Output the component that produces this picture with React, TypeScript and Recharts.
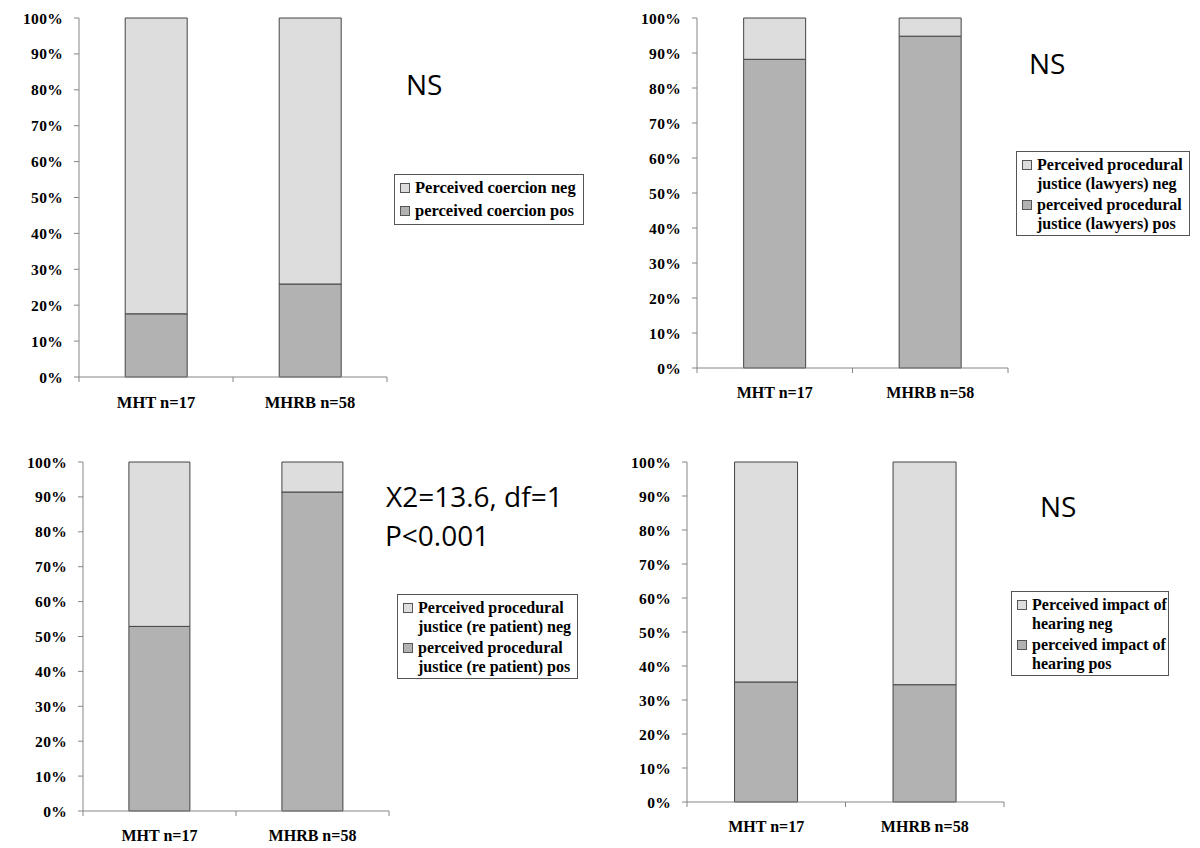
import React from 'react';
import { BarChart, Bar, XAxis, YAxis, Legend } from 'recharts';

// ---- data ----
const categories = ['MHT n=17', 'MHRB n=58'];

const coercionPos = [17.6, 25.9];
const coercionNeg = [82.4, 74.1];

const lawyersPos = [88.2, 94.8];
const lawyersNeg = [11.8, 5.2];

const patientPos = [52.9, 91.4];
const patientNeg = [47.1, 8.6];

const hearingPos = [35.3, 34.5];
const hearingNeg = [64.7, 65.5];

const yTicks = [0, 10, 20, 30, 40, 50, 60, 70, 80, 90, 100];
const edgeTicks = [0, 1, 2];

const coercionNames = ['Perceived coercion neg', 'perceived coercion pos'];
const lawyersNames = ['Perceived procedural\njustice (lawyers) neg', 'perceived procedural\njustice (lawyers) pos'];
const patientNames = ['Perceived procedural\njustice (re patient) neg', 'perceived procedural\njustice (re patient) pos'];
const hearingNames = ['Perceived impact of\nhearing neg', 'perceived impact of\nhearing pos'];

const annotations = [
  { lines: ['NS'], x: 406, y: 95 },
  { lines: ['NS'], x: 1029, y: 74 },
  { lines: ['X2=13.6, df=1', 'P<0.001'], x: 386, y: 507 },
  { lines: ['NS'], x: 1040, y: 517 },
];

// ---- styles ----
const NEG = '#DDDDDD';
const POS = '#B2B2B2';
const BAR_STROKE = '#444444';
const AXIS = '#868686';
const SERIF = '"Liberation Serif", "Times New Roman", Times, serif';

const build = (pos: number[], neg: number[]) =>
  categories.map((c, i) => ({ cat: c, pos: pos[i], neg: neg[i], edge: i + 0.5 }));

type LegendCfg = { left: number; top: number; width: number; fontSize: number; lineHeight: number; gap: number };

const LegendBox = (props: any) => {
  const { payload, cfg } = props;
  const items = [...(payload || [])];
  items.sort((a: any, b: any) => (a.dataKey === 'neg' ? -1 : 1) - (b.dataKey === 'neg' ? -1 : 1));
  return (
    <div
      style={{
        width: cfg.width,
        boxSizing: 'border-box',
        border: '1px solid #555',
        background: '#fff',
        padding: '3px 0 0 0',
        fontFamily: SERIF,
        fontWeight: 'bold',
        fontSize: cfg.fontSize,
        lineHeight: `${cfg.lineHeight}px`,
        color: '#000',
        textAlign: 'left',
      }}
    >
      {items.map((it: any, i: number) => (
        <div key={i} style={{ display: 'flex', alignItems: 'flex-start', marginBottom: cfg.gap }}>
          <div
            style={{
              width: 10,
              height: 10,
              boxSizing: 'border-box',
              border: '1px solid #555',
              background: it.color,
              marginLeft: 5,
              marginRight: 5,
              marginTop: (cfg.lineHeight - 10) / 2,
              flex: 'none',
            }}
          />
          <div>
            {String(it.value)
              .split('\n')
              .map((l: string, j: number) => (
                <div key={j} style={{ whiteSpace: 'nowrap' }}>
                  {l}
                </div>
              ))}
          </div>
        </div>
      ))}
    </div>
  );
};

type PanelProps = {
  left: number;
  top: number;
  height: number;
  marginTop: number;
  marginRight: number;
  yWidth: number;
  catHeight: number;
  pos: number[];
  neg: number[];
  names: string[];
  legend: LegendCfg;
  tickFont: number;
  catFont: number;
};

const Panel = (p: PanelProps) => {
  const data = build(p.pos, p.neg);
  return (
    <div style={{ position: 'absolute', left: p.left, top: p.top }}>
      <BarChart
        width={600}
        height={p.height}
        data={data}
        margin={{ top: p.marginTop, right: p.marginRight, bottom: 0, left: 0 }}
        barCategoryGap="30%"
      >
        <XAxis
          xAxisId="aEdge"
          dataKey="edge"
          type="number"
          domain={[0, 2]}
          ticks={edgeTicks}
          allowDataOverflow
          height={1}
          tickSize={5}
          tickFormatter={() => ''}
          axisLine={{ stroke: AXIS }}
          tickLine={{ stroke: AXIS }}
        />
        <XAxis
          xAxisId="bCat"
          dataKey="cat"
          type="category"
          height={p.catHeight}
          axisLine={false}
          tickLine={false}
          tickSize={0}
          tickMargin={18}
          interval={0}
          tick={{ fill: '#000', fontFamily: SERIF, fontWeight: 'bold', fontSize: p.catFont }}
        />
        <YAxis
          type="number"
          domain={[0, 100]}
          ticks={yTicks}
          interval={0}
          width={p.yWidth}
          tickSize={5}
          tickMargin={11}
          tickFormatter={(v: number) => `${v}%`}
          axisLine={{ stroke: AXIS }}
          tickLine={{ stroke: AXIS }}
          tick={{ fill: '#000', fontFamily: SERIF, fontWeight: 'bold', fontSize: p.tickFont, letterSpacing: 0.3 }}
        />
        <Legend
          layout="horizontal"
          verticalAlign="middle"
          align="center"
          wrapperStyle={{ position: 'absolute', left: p.legend.left, top: p.legend.top, width: 'auto', height: 'auto' }}
          content={(props: any) => <LegendBox {...props} cfg={p.legend} />}
        />
        <Bar
          xAxisId="bCat"
          dataKey="pos"
          stackId="s"
          name={p.names[1]}
          fill={POS}
          stroke={BAR_STROKE}
          strokeWidth={1}
          isAnimationActive={false}
        />
        <Bar
          xAxisId="bCat"
          dataKey="neg"
          stackId="s"
          name={p.names[0]}
          fill={NEG}
          stroke={BAR_STROKE}
          strokeWidth={1}
          isAnimationActive={false}
        />
      </BarChart>
    </div>
  );
};

export default function App() {
  return (
    <div
      style={{
        position: 'absolute',
        left: 0,
        top: 0,
        width: 1200,
        height: 848,
        background: '#fff',
        overflow: 'hidden',
      }}
    >
      <Panel
        left={0}
        top={0}
        height={420}
        marginTop={18}
        marginRight={213}
        yWidth={79}
        catHeight={42}
        pos={coercionPos}
        neg={coercionNeg}
        names={coercionNames}
        legend={{ left: 394, top: 174, width: 190, fontSize: 16.5, lineHeight: 20, gap: 3 }}
        tickFont={15.5}
        catFont={16.5}
      />
      <Panel
        left={600}
        top={0}
        height={410}
        marginTop={18}
        marginRight={192}
        yWidth={97}
        catHeight={41}
        pos={lawyersPos}
        neg={lawyersNeg}
        names={lawyersNames}
        legend={{ left: 416, top: 151, width: 174, fontSize: 16, lineHeight: 19, gap: 2 }}
        tickFont={15.5}
        catFont={16}
      />
      <Panel
        left={0}
        top={440}
        height={408}
        marginTop={22}
        marginRight={211}
        yWidth={83}
        catHeight={36}
        pos={patientPos}
        neg={patientNeg}
        names={patientNames}
        legend={{ left: 397, top: 154, width: 181, fontSize: 16, lineHeight: 19, gap: 2 }}
        tickFont={15.5}
        catFont={16}
      />
      <Panel
        left={600}
        top={440}
        height={408}
        marginTop={22}
        marginRight={196}
        yWidth={87}
        catHeight={45}
        pos={hearingPos}
        neg={hearingNeg}
        names={hearingNames}
        legend={{ left: 411, top: 151, width: 158, fontSize: 16, lineHeight: 19, gap: 2 }}
        tickFont={15.5}
        catFont={16}
      />
      <svg
        width={1200}
        height={848}
        style={{ position: 'absolute', left: 0, top: 0, pointerEvents: 'none' }}
      >
        {annotations.map((a, i) => (
          <text key={i} x={a.x} y={a.y} fontFamily='"Open Sans", "Noto Sans", sans-serif' fontSize={28} fill="#000">
            {a.lines.map((l, j) => (
              <tspan key={j} x={a.x + (j > 0 ? -1 : 0)} dy={j === 0 ? 0 : 39}>
                {l}
              </tspan>
            ))}
          </text>
        ))}
      </svg>
    </div>
  );
}
